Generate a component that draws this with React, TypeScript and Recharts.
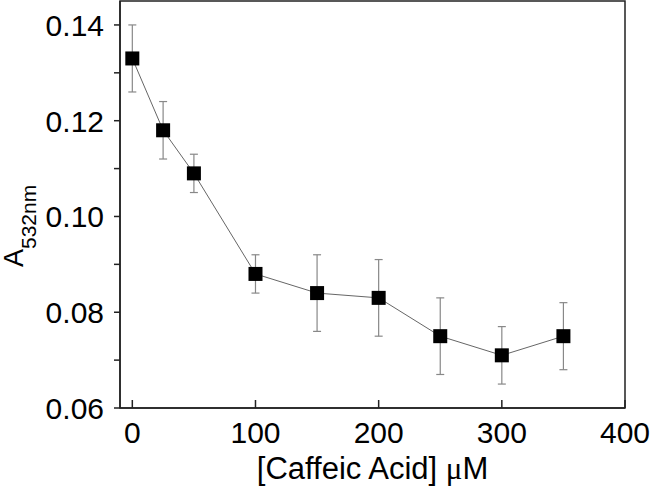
import React from "react";
import { ComposedChart, Line, XAxis, YAxis, ErrorBar, ReferenceArea } from "recharts";

const concentrations = [0, 25, 50, 100, 150, 200, 250, 300, 350];
const absorbance = [0.133, 0.118, 0.109, 0.088, 0.084, 0.083, 0.075, 0.071, 0.075];
const errors = [0.007, 0.006, 0.004, 0.004, 0.008, 0.008, 0.008, 0.006, 0.007];
const xTicks = [0, 100, 200, 300, 400];
const yTicks = [0.06, 0.07, 0.08, 0.09, 0.1, 0.11, 0.12, 0.13, 0.14];

const data = concentrations.map((c, i) => ({ x: c, y: absorbance[i], err: errors[i] }));

const FONT = "'Liberation Sans', Arial, sans-serif";

const SquareDot = (props: any) => {
  const { cx, cy, index } = props;
  if (cx == null || cy == null) return null;
  return <rect key={`d${index}`} x={cx - 7} y={cy - 7} width={14} height={14} fill="#000" />;
};

const YTick = (props: any) => {
  const { x, y, payload } = props;
  const v = payload.value;
  const major = Math.round(v * 100) % 2 === 0;
  if (!major) return null;
  return (
    <text x={x} y={y} dy="0.36em" textAnchor="end" fontSize={30} fontFamily={FONT} fill="#000">
      {v.toFixed(2)}
    </text>
  );
};

const XTick = (props: any) => {
  const { x, y, payload } = props;
  return (
    <g>
      <line x1={x} y1={y} x2={x} y2={y - 8} stroke="#222" strokeWidth={1.5} />
      <text x={x} y={443} textAnchor="middle" fontSize={30} fontFamily={FONT} fill="#000">
        {payload.value}
      </text>
    </g>
  );
};

export default function App() {
  return (
    <div style={{ position: "absolute", left: 0, top: 0, width: 651, height: 486, background: "#fff" }}>
      <ComposedChart width={651} height={486} data={data} margin={{ top: 1, right: 26, left: 0, bottom: 0 }}>
        <XAxis
          type="number"
          dataKey="x"
          domain={[-10, 400]}
          ticks={xTicks}
          allowDataOverflow
          height={78}
          tickSize={0}
          tickMargin={0}
          tickLine={false}
          axisLine={{ stroke: "#222", strokeWidth: 1.5 }}
          tick={<XTick />}
          interval={0}
          label={{
            content: () => (
              <text x={372.5} y={479} textAnchor="middle" fontSize={31} fontFamily={FONT} fill="#000">
                [Caffeic Acid] <tspan fontFamily="'Liberation Serif', serif">μ</tspan>M
              </text>
            ),
          }}
        />
        <YAxis
          type="number"
          domain={[0.06, 0.145]}
          ticks={yTicks}
          allowDataOverflow
          width={120}
          tickSize={6}
          tickMargin={10}
          tickLine={{ stroke: "#222", strokeWidth: 1.5 }}
          axisLine={{ stroke: "#222", strokeWidth: 1.5 }}
          tick={<YTick />}
          interval={0}
          label={{
            content: () => (
              <text x={23} y={267} transform="rotate(-90, 23, 267)" textAnchor="start" fontFamily={FONT} fill="#000">
                <tspan fontSize={27}>A</tspan>
                <tspan fontSize={21} dy={13}>532nm</tspan>
              </text>
            ),
          }}
        />
        <ReferenceArea x1={-10} x2={400} y1={0.06} y2={0.145} fill="none" stroke="#222" strokeWidth={1.5} ifOverflow="visible" />
        <Line
          type="linear"
          dataKey="y"
          stroke="#666"
          strokeWidth={1}
          dot={<SquareDot />}
          activeDot={false}
          isAnimationActive={false}
        >
          <ErrorBar dataKey="err" width={4} stroke="#888" strokeWidth={1.2} direction="y" isAnimationActive={false} />
        </Line>
      </ComposedChart>
    </div>
  );
}
